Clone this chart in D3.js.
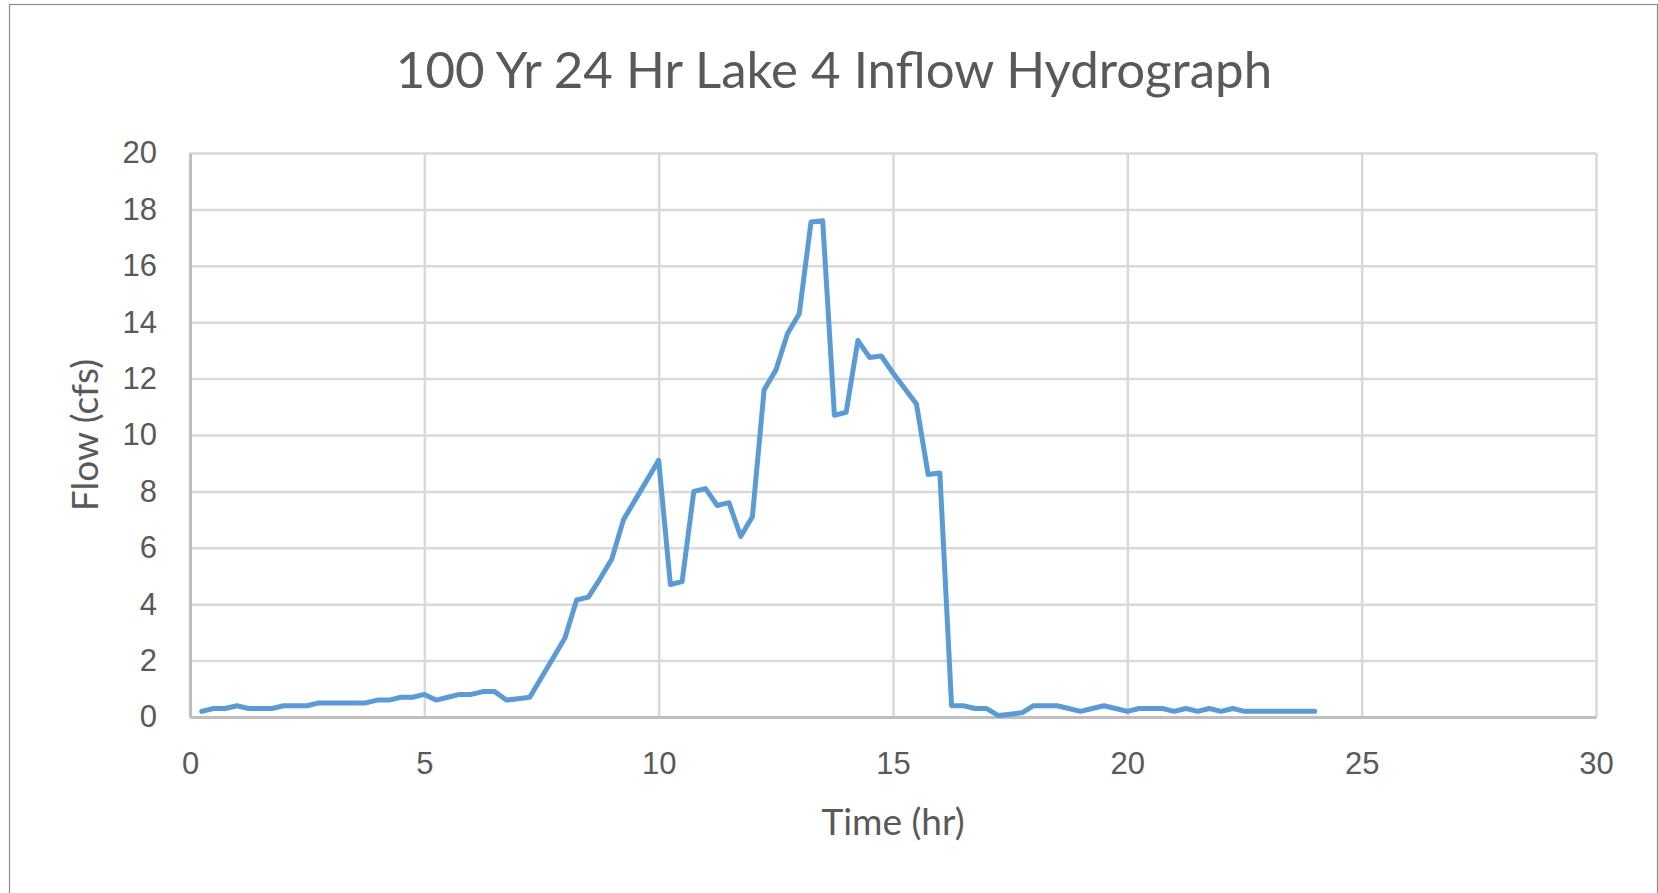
<!DOCTYPE html>
<html>
<head>
<meta charset="utf-8">
<script src="https://cdn.jsdelivr.net/npm/d3@7"></script>
<style>
  body { margin: 0; background: #fff; }
  svg { display: block; font-family: Lato, "Open Sans", sans-serif; }
</style>
</head>
<body>
<div id="chart"></div>
<script>
// hydrograph (hr, cfs)
const times = [
  0.25, 0.5, 0.75, 1, 1.25, 1.5, 1.75, 2, 2.25, 2.5, 2.75, 3,
  3.25, 3.5, 3.75, 4, 4.25, 4.5, 4.75, 5, 5.25, 5.5, 5.75, 6,
  6.25, 6.5, 6.75, 7, 7.25, 7.5, 7.75, 8, 8.25, 8.5, 8.75, 9,
  9.25, 9.5, 9.75, 10, 10.25, 10.5, 10.75, 11, 11.25, 11.5, 11.75, 12,
  12.25, 12.5, 12.75, 13, 13.25, 13.5, 13.75, 14, 14.25, 14.5, 14.75, 15,
  15.25, 15.5, 15.75, 16, 16.25, 16.5, 16.75, 17, 17.25, 17.5, 17.75, 18,
  18.25, 18.5, 18.75, 19, 19.25, 19.5, 19.75, 20, 20.25, 20.5, 20.75, 21,
  21.25, 21.5, 21.75, 22, 22.25, 22.5, 22.75, 23, 23.25, 23.5, 23.75, 24
];
const flows = [
  0.2, 0.3, 0.3, 0.4, 0.3, 0.3, 0.3, 0.4, 0.4, 0.4, 0.5, 0.5,
  0.5, 0.5, 0.5, 0.6, 0.6, 0.7, 0.7, 0.8, 0.6, 0.7, 0.8, 0.8,
  0.9, 0.9, 0.6, 0.65, 0.7, 1.4, 2.1, 2.8, 4.15, 4.25, 4.9, 5.6,
  7.0, 7.7, 8.4, 9.1, 4.7, 4.8, 8.0, 8.1, 7.5, 7.6, 6.4, 7.1,
  11.6, 12.3, 13.6, 14.3, 17.55, 17.6, 10.7, 10.8, 13.35, 12.75, 12.8, 12.2,
  11.65, 11.1, 8.6, 8.65, 0.4, 0.4, 0.3, 0.3, 0.05, 0.1, 0.15, 0.4,
  0.4, 0.4, 0.3, 0.2, 0.3, 0.4, 0.3, 0.2, 0.3, 0.3, 0.3, 0.2,
  0.3, 0.2, 0.3, 0.2, 0.3, 0.2, 0.2, 0.2, 0.2, 0.2, 0.2, 0.2
];
const xTicks = [0, 5, 10, 15, 20, 25, 30];
const yTicks = [0, 2, 4, 6, 8, 10, 12, 14, 16, 18, 20];

const width = 1658, height = 893;
const margin = {top: 153, right: 62, bottom: 176, left: 190};

const svg = d3.select("#chart")
    .append("svg")
    .attr("width", width)
    .attr("height", height);

// chart border
svg.append("rect")
    .attr("x", 9.5).attr("y", 4.5)
    .attr("width", 1648).attr("height", 900)
    .attr("fill", "#fff")
    .attr("stroke", "#8c8c8c")
    .attr("stroke-width", 1.2);

const x = d3.scaleLinear()
    .domain([0, 30])
    .range([margin.left, width - margin.right]);

const y = d3.scaleLinear()
    .domain([0, 20])
    .range([height - margin.bottom, margin.top]);

// grid
svg.append("g")
    .attr("transform", `translate(0,${y(0)})`)
    .call(d3.axisBottom(x).tickValues(xTicks).tickSize(-(y(0) - y(20))).tickFormat(""))
    .call(g => g.select(".domain").remove())
    .call(g => g.selectAll("line").attr("stroke", "#d9d9d9").attr("stroke-width", 2.5));

svg.append("g")
    .attr("transform", `translate(${x(0)},0)`)
    .call(d3.axisLeft(y).tickValues(yTicks).tickSize(-(x(30) - x(0))).tickFormat(""))
    .call(g => g.select(".domain").remove())
    .call(g => g.selectAll("line").attr("stroke", "#d9d9d9").attr("stroke-width", 2.5));

// axes lines + labels
const xAxis = svg.append("g")
    .attr("transform", `translate(0,${y(0)})`)
    .call(d3.axisBottom(x).tickValues(xTicks).tickSize(0).tickPadding(35).tickSizeOuter(0));
xAxis.select(".domain").attr("stroke", "#bfbfbf").attr("stroke-width", 3);
xAxis.selectAll("text").attr("fill", "#595959").style("font-size", "31px");

const yAxis = svg.append("g")
    .attr("transform", `translate(${x(0)},0)`)
    .call(d3.axisLeft(y).tickValues(yTicks).tickSize(0).tickPadding(33).tickSizeOuter(0));
yAxis.select(".domain").attr("stroke", "#bfbfbf").attr("stroke-width", 3);
yAxis.selectAll("text").attr("fill", "#595959").style("font-size", "31px");

// the hydrograph
const data = times.map((t, i) => ({t: t, q: flows[i]}));

const line = d3.line()
    .x(d => x(d.t))
    .y(d => y(d.q));

svg.append("path")
    .datum(data)
    .attr("fill", "none")
    .attr("stroke", "#5b9bd5")
    .attr("stroke-width", 5)
    .attr("stroke-linejoin", "round")
    .attr("stroke-linecap", "round")
    .attr("d", line);

// titles
svg.append("text")
    .attr("x", 834).attr("y", 88)
    .attr("text-anchor", "middle")
    .attr("fill", "#595959")
    .style("font-size", "51px")
    .text("100 Yr 24 Hr Lake 4 Inflow Hydrograph");

svg.append("text")
    .attr("x", (x(0) + x(30)) / 2).attr("y", 835)
    .attr("text-anchor", "middle")
    .attr("fill", "#595959")
    .style("font-size", "37px")
    .text("Time (hr)");

svg.append("text")
    .attr("transform", `translate(98,${(y(0) + y(20)) / 2}) rotate(-90)`)
    .attr("text-anchor", "middle")
    .attr("fill", "#595959")
    .style("font-size", "37px")
    .text("Flow (cfs)");
</script>
</body>
</html>
